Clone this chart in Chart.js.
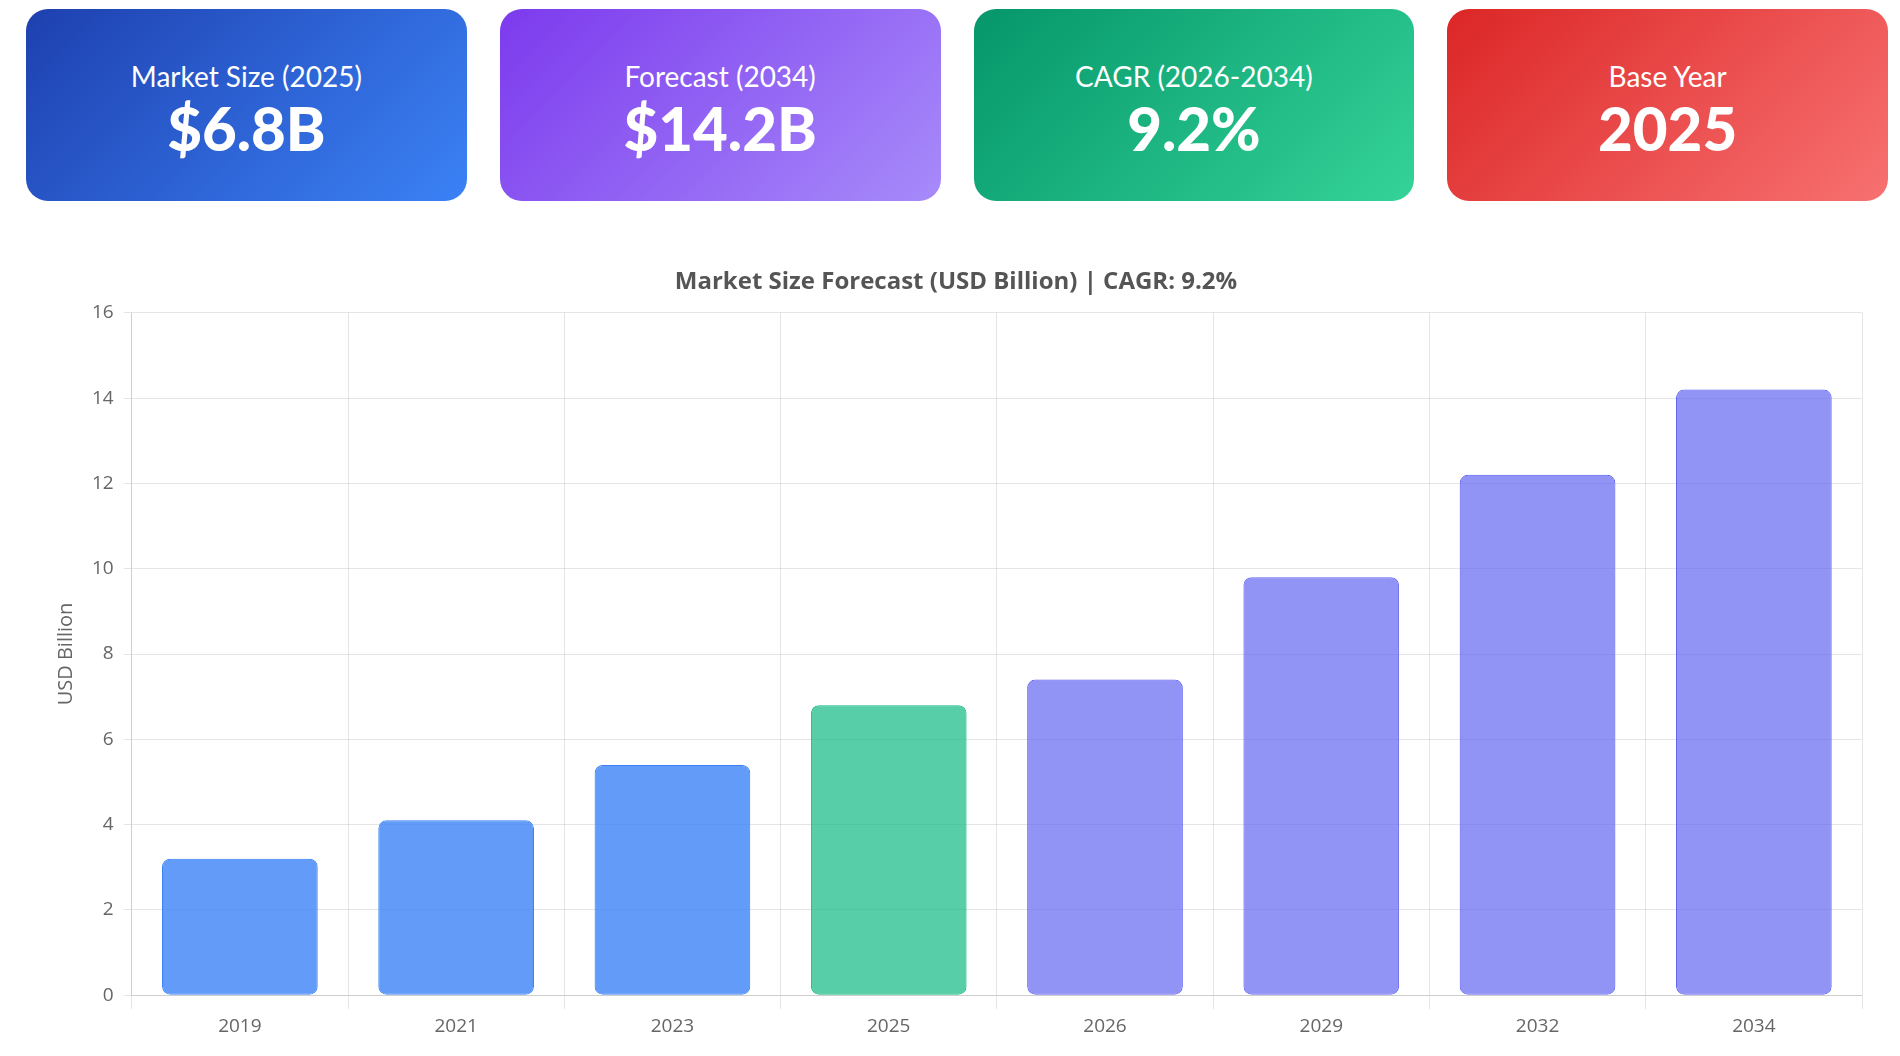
<!DOCTYPE html>
<html><head><meta charset="utf-8">
<script src="https://cdn.jsdelivr.net/npm/chart.js@4.4.1/dist/chart.umd.min.js"></script>
<style>
body{margin:0;background:#fff;font-family:"Open Sans",sans-serif;width:1900px;height:1056px;overflow:hidden}
.cards{position:absolute;left:26px;top:9px;width:1862px;display:flex;gap:33px}
.card{flex:1;height:192px;border-radius:22px;color:#fff;text-align:center;box-sizing:border-box;padding-top:50px}
.card .l{font-family:"Lato","Open Sans",sans-serif;font-size:28px;font-weight:400}
.card .v{font-family:"Lato",sans-serif;font-size:60px;font-weight:900;margin-top:2px;line-height:1.1}
.c1{background:linear-gradient(135deg,#1e40af,#3b82f6)}
.c2{background:linear-gradient(135deg,#7c3aed,#a78bfa)}
.c3{background:linear-gradient(135deg,#059669,#34d399)}
.c4{background:linear-gradient(135deg,#dc2626,#f87171)}
.wrap{position:absolute;left:50px;top:262px;width:1820px;height:794px}
</style></head><body>
<div class="cards">
<div class="card c1"><div class="l">Market Size (2025)</div><div class="v">$6.8B</div></div>
<div class="card c2"><div class="l">Forecast (2034)</div><div class="v">$14.2B</div></div>
<div class="card c3"><div class="l">CAGR (2026-2034)</div><div class="v">9.2%</div></div>
<div class="card c4"><div class="l">Base Year</div><div class="v">2025</div></div>
</div>
<div class="wrap"><canvas id="c"></canvas></div>
<script>
const years=["2019","2021","2023","2025","2026","2029","2032","2034"];
const values=[3.2,4.1,5.4,6.8,7.4,9.8,12.2,14.2];
const kinds=["h","h","h","b","f","f","f","f"];
const fill={h:"rgba(59,130,246,0.8)",b:"rgba(16,185,129,0.7)",f:"rgba(99,102,241,0.7)"};
const line={h:"rgb(59,130,246)",b:"rgb(16,185,129)",f:"rgb(99,102,241)"};
Chart.defaults.font.family='"Open Sans",sans-serif';
Chart.defaults.color='#666';
new Chart(document.getElementById('c'),{type:'bar',
data:{labels:years,datasets:[{data:values,backgroundColor:kinds.map(k=>fill[k]),borderColor:kinds.map(k=>line[k]),borderWidth:1,borderRadius:8,borderSkipped:false,barPercentage:0.72,categoryPercentage:1}]},
options:{responsive:true,maintainAspectRatio:false,animation:false,
layout:{padding:{right:8,bottom:12}},
plugins:{legend:{display:false},title:{display:true,text:'Market Size Forecast (USD Billion) | CAGR: 9.2%',font:{size:24,weight:'bold'},color:'#555',padding:{top:6,bottom:16}}},
scales:{y:{min:0,max:16,ticks:{stepSize:2,font:{size:19},padding:10},title:{display:true,text:'USD Billion',font:{size:20}},grid:{color:'rgba(0,0,0,0.1)',tickLength:8}},
x:{ticks:{font:{size:19},padding:6},grid:{color:'rgba(0,0,0,0.1)',offset:true,tickLength:14}}}}});
</script></body></html>
